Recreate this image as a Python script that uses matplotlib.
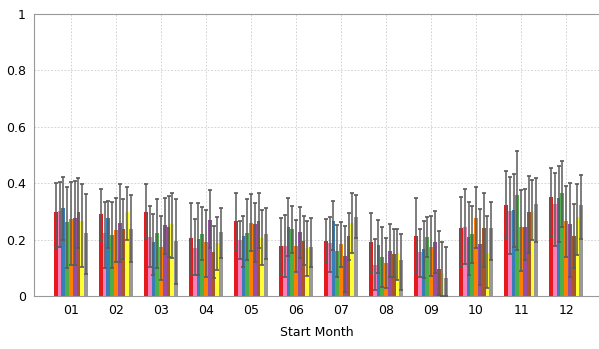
import numpy as np
import matplotlib
matplotlib.use("Agg")
import matplotlib.pyplot as plt

months = ['01', '02', '03', '04', '05', '06', '07', '08', '09', '10', '11', '12']
colors = ['#e41a1c', '#f781bf', '#377eb8', '#4daf4a', '#ff7f00',
          '#984ea3', '#a65628', '#ffff33', '#999999']

# mean values, one row per month, one column per series
means = [
    [0.297, 0.301, 0.311, 0.261, 0.273, 0.275, 0.297, 0.266, 0.222],
    [0.291, 0.222, 0.275, 0.216, 0.234, 0.258, 0.238, 0.297, 0.238],
    [0.299, 0.208, 0.193, 0.222, 0.175, 0.252, 0.243, 0.255, 0.196],
    [0.204, 0.170, 0.203, 0.220, 0.190, 0.271, 0.157, 0.187, 0.226],
    [0.266, 0.200, 0.213, 0.225, 0.260, 0.254, 0.267, 0.207, 0.220],
    [0.178, 0.178, 0.246, 0.238, 0.177, 0.226, 0.196, 0.169, 0.174],
    [0.196, 0.189, 0.267, 0.161, 0.183, 0.142, 0.213, 0.260, 0.279],
    [0.190, 0.110, 0.181, 0.137, 0.116, 0.161, 0.149, 0.154, 0.128],
    [0.214, 0.155, 0.167, 0.208, 0.175, 0.193, 0.096, 0.083, 0.065],
    [0.242, 0.246, 0.210, 0.220, 0.278, 0.184, 0.242, 0.154, 0.242],
    [0.323, 0.303, 0.305, 0.358, 0.246, 0.246, 0.297, 0.297, 0.325],
    [0.350, 0.326, 0.346, 0.364, 0.267, 0.255, 0.214, 0.279, 0.323],
]
# upper ends of the error bars
uppers = [
    [0.400, 0.403, 0.421, 0.385, 0.404, 0.409, 0.418, 0.398, 0.360],
    [0.379, 0.335, 0.337, 0.335, 0.346, 0.396, 0.343, 0.387, 0.358],
    [0.398, 0.319, 0.290, 0.345, 0.284, 0.346, 0.355, 0.364, 0.343],
    [0.329, 0.272, 0.329, 0.314, 0.305, 0.376, 0.247, 0.281, 0.311],
    [0.365, 0.267, 0.284, 0.343, 0.362, 0.329, 0.364, 0.305, 0.311],
    [0.275, 0.287, 0.349, 0.320, 0.270, 0.314, 0.284, 0.266, 0.275],
    [0.272, 0.279, 0.337, 0.252, 0.264, 0.248, 0.293, 0.366, 0.358],
    [0.296, 0.201, 0.270, 0.246, 0.204, 0.255, 0.236, 0.238, 0.219],
    [0.346, 0.238, 0.267, 0.281, 0.284, 0.301, 0.232, 0.190, 0.173],
    [0.350, 0.378, 0.332, 0.320, 0.385, 0.307, 0.364, 0.284, 0.335],
    [0.443, 0.423, 0.431, 0.515, 0.376, 0.379, 0.427, 0.411, 0.417],
    [0.453, 0.437, 0.461, 0.479, 0.390, 0.400, 0.326, 0.397, 0.429],
]
# lower ends of the error bars
lowers = [
    [0.170, 0.175, 0.200, 0.098, 0.110, 0.110, 0.170, 0.104, 0.078],
    [0.200, 0.100, 0.170, 0.100, 0.120, 0.120, 0.130, 0.200, 0.120],
    [0.204, 0.104, 0.074, 0.100, 0.057, 0.150, 0.140, 0.134, 0.043],
    [0.074, 0.074, 0.074, 0.128, 0.066, 0.169, 0.063, 0.092, 0.134],
    [0.160, 0.131, 0.102, 0.128, 0.160, 0.122, 0.169, 0.110, 0.131],
    [0.074, 0.069, 0.142, 0.151, 0.086, 0.134, 0.110, 0.071, 0.104],
    [0.116, 0.086, 0.163, 0.066, 0.104, 0.015, 0.128, 0.151, 0.204],
    [0.080, 0.021, 0.080, 0.033, 0.027, 0.069, 0.069, 0.057, 0.021],
    [0.080, 0.069, 0.063, 0.139, 0.071, 0.080, 0.004, 0.000, 0.000],
    [0.102, 0.112, 0.074, 0.118, 0.169, 0.039, 0.104, 0.030, 0.128],
    [0.204, 0.149, 0.175, 0.163, 0.090, 0.128, 0.154, 0.199, 0.193],
    [0.213, 0.177, 0.193, 0.243, 0.137, 0.069, 0.098, 0.145, 0.201],
]

means = np.array(means)
uppers = np.array(uppers)
lowers = np.array(lowers)

fig = plt.figure(figsize=(5.99, 3.49), dpi=100)
ax = fig.add_axes([34 / 599, 53 / 349, 1 - 34 / 599, 282 / 349])

x = np.arange(1, 13)
n = len(colors)
w = 0.084
for i in range(n):
    pos = x + (i - (n - 1) / 2) * w
    ax.bar(pos, means[:, i], width=w, color=colors[i], zorder=2)
    err = [means[:, i] - lowers[:, i], uppers[:, i] - means[:, i]]
    eb = ax.errorbar(pos, means[:, i], yerr=err, fmt='none', ecolor='#5a5a5a',
                     elinewidth=1.1, capsize=1.6, capthick=1.2, zorder=3)
    for cap in eb[1]:
        cap.set_color('#111111')

ax.set_xlim(0.18, 12.73)
ax.set_ylim(0, 1)
ax.set_xticks(x)
ax.set_xticklabels(months)
ax.set_yticks([0, 0.2, 0.4, 0.6, 0.8, 1])
ax.set_yticklabels(['0', '0.2', '0.4', '0.6', '0.8', '1'])
ax.tick_params(length=0, labelsize=9, pad=6)
ax.grid(True, color='#cccccc', linestyle=(0, (2, 2)), linewidth=0.6, zorder=0)
ax.set_axisbelow(True)
for s in ['left', 'bottom', 'top']:
    ax.spines[s].set_color('#999999')
ax.spines['right'].set_visible(False)
ax.set_xlabel('Start Month', fontsize=9, labelpad=6)

fig.savefig('out.png', dpi=100)
